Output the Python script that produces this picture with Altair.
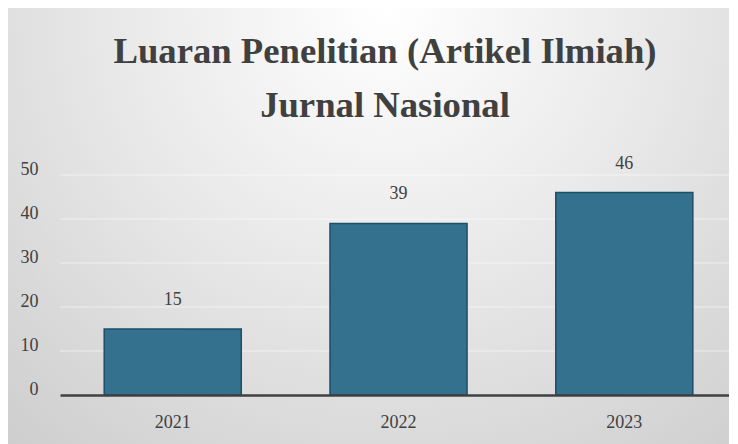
import altair as alt
import pandas as pd

years = ["2021", "2022", "2023"]
values = [15, 39, 46]
grid_values = [10, 20, 30, 40, 50]
title_lines = ["Luaran Penelitian (Artikel Ilmiah)", "Jurnal Nasional"]

W, H = 669, 220
FONT = "Liberation Serif"
TXT = "#404040"

df = pd.DataFrame({"year": years, "value": values})
gdf = pd.DataFrame({"g": grid_values})

xscale = alt.Scale(domain=years, paddingInner=0.393, paddingOuter=0.178, align=0.55)
yscale = alt.Scale(domain=[0, 50])

bg = alt.Chart(alt.Data(values=[{}])).mark_rect(
    fill=alt.Gradient(
        gradient="radial",
        x1=0.52, y1=0.2, r1=0.0,
        x2=0.52, y2=0.2, r2=0.85,
        stops=[alt.GradientStop(color="#FFFFFF", offset=0),
               alt.GradientStop(color="#E8E8E8", offset=0.45),
               alt.GradientStop(color="#CACACA", offset=1)],
    )
).encode(
    x=alt.value(-54), x2=alt.value(W + 10),
    y=alt.value(-169), y2=alt.value(H + 49),
)

title = alt.Chart(alt.Data(values=[{}])).mark_text(
    font=FONT, fontSize=36.7, fontWeight="bold", color=TXT,
    align="center", baseline="alphabetic", lineHeight=54,
).encode(
    x=alt.value(325), y=alt.value(-112), text=alt.value(title_lines),
)

grid = alt.Chart(gdf).mark_rule(color="#FFFFFF", opacity=0.55, strokeWidth=1).encode(
    y=alt.Y("g:Q", scale=yscale),
    x=alt.value(0), x2=alt.value(W),
)

bars = alt.Chart(df).mark_bar(
    color="#33718E", stroke="#1C4F69", strokeWidth=1.5
).encode(
    x=alt.X("year:N", scale=xscale, sort=years,
            axis=alt.Axis(title=None, labelAngle=0, ticks=False, domainColor="#404040",
                          domainWidth=2.5, labelFont=FONT, labelFontSize=18,
                          labelColor=TXT, labelPadding=18, zindex=1)),
    y=alt.Y("value:Q", scale=yscale,
            axis=alt.Axis(title=None, values=[0, 10, 20, 30, 40, 50], grid=False,
                          domain=False, ticks=False, labelFont=FONT, labelFontSize=18,
                          labelColor=TXT, labelPadding=22, labelOffset=-6, zindex=1)),
)

labels = alt.Chart(df).mark_text(
    font=FONT, fontSize=18, color=TXT, baseline="middle", dy=-29
).encode(
    x=alt.X("year:N", scale=xscale, sort=years),
    y=alt.Y("value:Q", scale=yscale),
    text="value:Q",
)

chart = alt.layer(bg, title, grid, bars, labels).properties(
    width=W, height=H,
    autosize=alt.AutoSizeParams(type="none"),
    padding={"left": 52, "top": 167, "right": 0, "bottom": 49},
).configure_view(stroke=None)

chart.save("out.html", embed_options={"renderer": "svg", "actions": False})
